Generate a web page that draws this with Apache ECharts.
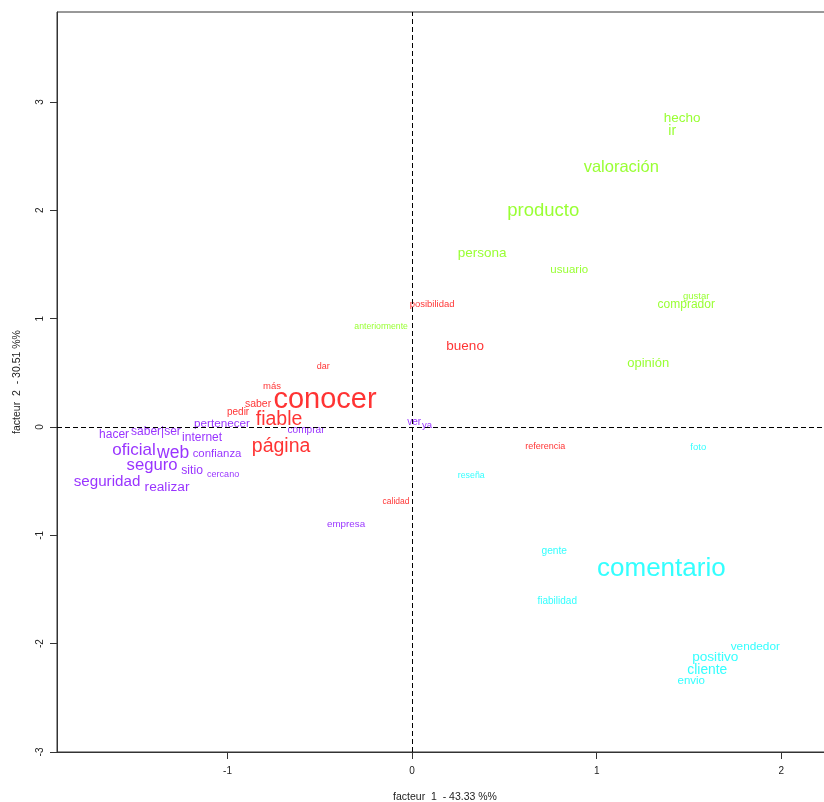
<!DOCTYPE html>
<html>
<head>
<meta charset="utf-8">
<script src="https://cdn.jsdelivr.net/npm/echarts@6/dist/echarts.min.js"></script>
<style>
html,body{margin:0;padding:0;overflow:hidden;background:#fff;}
#chart{width:834px;height:802px;}
</style>
</head>
<body>
<div id="chart"></div>
<script>
// Cluster 1 (red)
const redWords = ['conocer','fiable','página','saber','más','pedir','dar','posibilidad','bueno','calidad','referencia'];
const redX     = [-0.472,-0.721,-0.710,-0.835,-0.759,-0.943,-0.482,0.108,0.287,-0.087,0.721];
const redY     = [0.249,0.065,-0.185,0.212,0.378,0.138,0.554,1.135,0.748,-0.692,-0.185];
const redSize  = [29,19.5,19.5,10.5,9.5,10,9,9.5,13.5,8.5,9];

// Cluster 2 (green)
const greenWords = ['hecho','ir','valoración','producto','persona','usuario','gustar','comprador','opinión','anteriormente'];
const greenX     = [1.463,1.409,1.133,0.710,0.379,0.851,1.539,1.485,1.279,-0.168];
const greenY     = [2.852,2.732,2.391,1.994,1.606,1.449,1.209,1.126,0.591,0.923];
const greenSize  = [13.5,14,16.5,18.5,13.5,11.5,9.5,12,13,8.7];

// Cluster 3 (cyan)
const cyanWords = ['comentario','foto','reseña','gente','fiabilidad','vendedor','positivo','cliente','envio'];
const cyanX     = [1.350,1.550,0.320,0.770,0.786,1.859,1.642,1.599,1.512];
const cyanY     = [-1.311,-0.185,-0.452,-1.145,-1.606,-2.031,-2.123,-2.243,-2.345];
const cyanSize  = [26,9.5,8.8,10.2,10,11.8,13.6,13.8,11.5];

// Cluster 4 (purple)
const purpleWords = ['hacer','saber|ser','internet','pertenecer','oficial','web','confianza','seguro','sitio','cercano','seguridad','realizar','comprar','empresa','ver','ya'];
const purpleX     = [-1.615,-1.388,-1.138,-1.030,-1.507,-1.295,-1.057,-1.409,-1.192,-1.024,-1.653,-1.328,-0.575,-0.358,0.011,0.081];
const purpleY     = [-0.074,-0.046,-0.102,0.028,-0.212,-0.240,-0.249,-0.351,-0.406,-0.443,-0.508,-0.554,-0.028,-0.895,0.046,0.018];
const purpleSize  = [12,12,12,11.7,17,17.5,11.4,16.7,12.2,9,15.2,13.7,10.1,9.8,10,9.5];

const xTicks = [-1, 0, 1, 2];
const yTicks = [-3, -2, -1, 0, 1, 2, 3];
const xTitle = 'facteur  1  - 43.33 %%';
const yTitle = 'facteur  2  - 30.51 %%';

const FONT = '"Liberation Sans", Arial, sans-serif';

function makeSeries(words, xs, ys, sizes, color) {
  return {
    type: 'scatter',
    symbolSize: 0,
    silent: true,
    data: words.map((w, i) => ({
      name: w,
      value: [xs[i], ys[i]],
      label: { fontSize: sizes[i], offset: [0, Math.round(sizes[i] * 0.07 * 10) / 10] }
    })),
    label: {
      show: true,
      position: 'inside',
      formatter: p => p.name,
      color: color,
      fontFamily: FONT,
      align: 'center',
      verticalAlign: 'middle'
    },
    labelLayout: { hideOverlap: false }
  };
}

const chart = echarts.init(document.getElementById('chart'), null, { renderer: 'canvas' });

const series = [
  makeSeries(purpleWords, purpleX, purpleY, purpleSize, '#8000FF'),
  makeSeries(cyanWords, cyanX, cyanY, cyanSize, '#00FFFF'),
  makeSeries(greenWords, greenX, greenY, greenSize, '#80FF00'),
  makeSeries(redWords, redX, redY, redSize, '#FF0000')
];
series[0].markLine = {
  silent: true,
  symbol: 'none',
  label: { show: false },
  lineStyle: { color: '#000', type: [5, 3], width: 1 },
  data: [{ xAxis: 0 }, { yAxis: 0 }]
};

chart.setOption({
  animation: false,
  backgroundColor: '#fff',
  grid: {
    left: 57, right: 1, top: 12, bottom: 50,
    containLabel: false,
    outerBoundsMode: 'none',
    show: true, borderColor: '#333', borderWidth: 1, backgroundColor: 'transparent'
  },
  xAxis: {
    type: 'value',
    min: -1.924, max: 2.28,
    name: xTitle,
    nameLocation: 'middle',
    nameGap: 40,
    nameTextStyle: { fontFamily: FONT, fontSize: 10.5, color: '#222' },
    axisLine: { show: true, onZero: false, lineStyle: { color: '#333', width: 1 } },
    axisTick: { show: true, inside: false, length: 7, customValues: xTicks, lineStyle: { color: '#333' } },
    axisLabel: { customValues: xTicks, fontFamily: FONT, fontSize: 10, color: '#222', margin: 14 },
    splitLine: { show: false }
  },
  yAxis: {
    type: 'value',
    min: -3, max: 3.83,
    name: yTitle,
    nameLocation: 'middle',
    nameRotate: 90,
    nameGap: 34,
    nameTextStyle: { fontFamily: FONT, fontSize: 10.5, color: '#222' },
    axisLine: { show: true, onZero: false, lineStyle: { color: '#333', width: 1 } },
    axisTick: { show: true, inside: false, length: 7, customValues: yTicks, lineStyle: { color: '#333' } },
    axisLabel: { customValues: yTicks, rotate: 90, fontFamily: FONT, fontSize: 10, color: '#222', margin: 12 },
    splitLine: { show: false }
  },
  series: series
});
</script>
</body>
</html>
